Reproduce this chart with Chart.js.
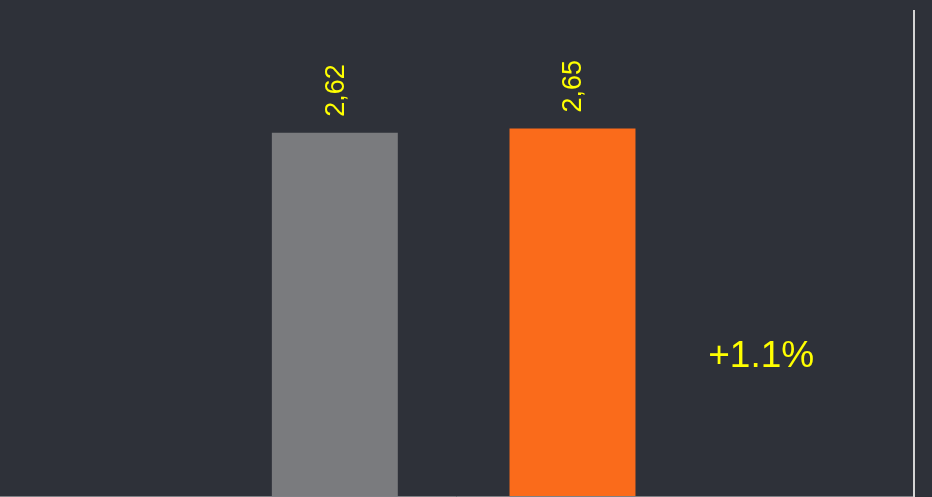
<!DOCTYPE html>
<html>
<head>
<meta charset="utf-8">
<script src="https://cdn.jsdelivr.net/npm/chart.js@4"></script>
<style>
  html, body { margin: 0; padding: 0; background: #2e3139; }
  #wrap { width: 932px; height: 497px; position: relative; }
</style>
</head>
<body>
<div id="wrap"><canvas id="chart"></canvas></div>
<script>
const categories = ['Previous', 'Current', 'Change'];
const values = [2.62, 2.65, null];
const valueLabels = ['2,62', '2,65', ''];
const barColors = ['#7a7b7e', '#fa6b1b', '#000000'];
const changeLabel = '+1.1%';

// rotated value labels above bars, change text, baseline and right divider
const decorations = {
    id: 'decorations',
    afterDatasetsDraw(chart) {
        const ctx = chart.ctx;
        const meta = chart.getDatasetMeta(0);
        ctx.save();
        ctx.fillStyle = '#ffff00';
        ctx.font = '27px "Liberation Sans", Arial, sans-serif';
        meta.data.forEach((bar, i) => {
            if (!valueLabels[i]) return;
            ctx.save();
            ctx.translate(bar.x + 0.5, bar.y - 16);
            ctx.rotate(-Math.PI / 2);
            ctx.textAlign = 'left';
            ctx.textBaseline = 'middle';
            ctx.fillText(valueLabels[i], 0, 1);
            ctx.restore();
        });

        const x = chart.scales.x;
        ctx.font = '37px "Liberation Sans", Arial, sans-serif';
        ctx.textAlign = 'center';
        ctx.textBaseline = 'middle';
        ctx.fillText(changeLabel, x.getPixelForValue(2) - 49, 357);

        ctx.strokeStyle = '#7e8085';
        ctx.lineWidth = 1;
        ctx.beginPath();
        ctx.moveTo(0, 496.5);
        ctx.lineTo(913, 496.5);
        ctx.stroke();

        ctx.strokeStyle = '#d4d4d4';
        ctx.lineWidth = 2;
        ctx.beginPath();
        ctx.moveTo(914, 10);
        ctx.lineTo(914, 497);
        ctx.stroke();
        ctx.restore();
    }
};

new Chart(document.getElementById('chart'), {
    type: 'bar',
    data: {
        labels: categories,
        datasets: [{
            data: values,
            backgroundColor: barColors,
            borderWidth: 0,
            categoryPercentage: 1,
            barPercentage: 0.53
        }]
    },
    options: {
        responsive: true,
        maintainAspectRatio: false,
        animation: false,
        layout: { padding: { left: 216, right: 3, top: 0, bottom: 0 } },
        plugins: {
            legend: { display: false },
            tooltip: { enabled: false }
        },
        scales: {
            x: {
                display: false,
                grid: { display: false }
            },
            y: {
                display: false,
                min: 0,
                max: 3.575,
                grid: { display: false }
            }
        }
    },
    plugins: [decorations]
});
</script>
</body>
</html>
